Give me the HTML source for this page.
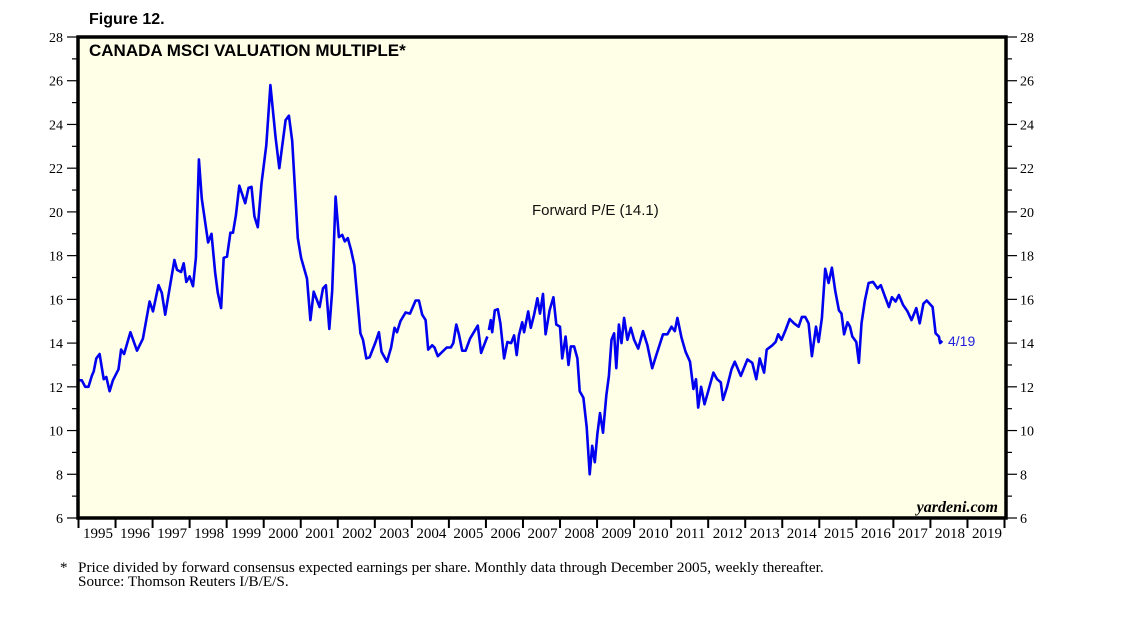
<!DOCTYPE html>
<html><head><meta charset="utf-8"><style>
html,body{margin:0;padding:0;background:#fff;width:1138px;height:621px;overflow:hidden}
svg{display:block}
.ser{font-family:"Liberation Serif",serif}
.san{font-family:"Liberation Sans",sans-serif}
</style></head><body>
<svg id="chart" width="1138" height="621" xmlns="http://www.w3.org/2000/svg">
<text x="89" y="24" class="san" font-size="16" font-weight="bold">Figure 12.</text>
<rect x="78" y="37" width="928" height="481" fill="#FFFEE6"/>
<g id="ticks"></g>
<path id="line" fill="none" stroke="#0000F0" stroke-width="2.6" stroke-linejoin="round"/>
<rect x="78" y="37" width="928" height="481" fill="none" stroke="#000" stroke-width="3.5"/>
<text x="89" y="56" class="san" font-size="17" font-weight="bold">CANADA MSCI VALUATION MULTIPLE*</text>
<text x="532" y="215" class="san" font-size="15" fill="#111">Forward P/E (14.1)</text>
<text x="948" y="346" class="san" font-size="14" fill="#2020E0">4/19</text>
<text x="998" y="512" class="ser" font-size="16" font-style="italic" font-weight="bold" text-anchor="end">yardeni.com</text>
<text x="60" y="572" class="ser" font-size="15">*</text>
<text x="78" y="572" class="ser" font-size="15.2">Price divided by forward consensus expected earnings per share. Monthly data through December 2005, weekly thereafter.</text>
<text x="78" y="586" class="ser" font-size="15.2">Source: Thomson Reuters I/B/E/S.</text>
</svg>
<script>
const years = [1995,1996,1997,1998,1999,2000,2001,2002,2003,2004,2005,2006,2007,2008,2009,2010,2011,2012,2013,2014,2015,2016,2017,2018,2019];
const yTicks = [6,8,10,12,14,16,18,20,22,24,26,28];
const dates = [1995.00,1995.09,1995.18,1995.27,1995.36,1995.41,1995.48,1995.57,1995.68,1995.75,1995.84,1995.93,1996.08,1996.15,1996.23,1996.40,1996.58,1996.74,1996.92,1997.01,1997.16,1997.25,1997.34,1997.46,1997.59,1997.66,1997.77,1997.84,1997.91,1998.00,1998.09,1998.17,1998.25,1998.33,1998.50,1998.59,1998.69,1998.76,1998.85,1998.92,1999.01,1999.10,1999.17,1999.25,1999.34,1999.50,1999.59,1999.67,1999.75,1999.84,1999.94,2000.07,2000.18,2000.32,2000.42,2000.59,2000.68,2000.77,2000.92,2001.01,2001.17,2001.26,2001.35,2001.51,2001.60,2001.68,2001.77,2001.85,2001.94,2002.03,2002.12,2002.19,2002.27,2002.36,2002.45,2002.61,2002.68,2002.77,2002.86,2003.02,2003.11,2003.18,2003.33,2003.44,2003.53,2003.60,2003.69,2003.83,2003.95,2004.10,2004.19,2004.28,2004.37,2004.44,2004.55,2004.61,2004.70,2004.94,2005.05,2005.12,2005.20,2005.27,2005.36,2005.45,2005.57,2005.78,2005.87,2006.04,null,
2006.08,2006.13,2006.17,2006.24,2006.32,2006.39,2006.49,2006.58,2006.68,2006.76,2006.83,2006.89,2006.98,2007.03,2007.14,2007.21,2007.30,2007.39,2007.46,2007.54,2007.61,2007.72,2007.82,2007.90,2008.00,2008.06,2008.15,2008.23,2008.29,2008.38,2008.47,2008.53,2008.63,2008.72,2008.80,2008.87,2008.94,2009.01,2009.08,2009.16,2009.25,2009.32,2009.39,2009.46,2009.52,2009.59,2009.66,2009.73,2009.82,2009.91,2010.00,2010.11,2010.24,2010.36,2010.49,2010.60,2010.78,2010.90,2011.01,2011.10,2011.17,2011.28,2011.39,2011.51,2011.60,2011.67,2011.73,2011.81,2011.90,2012.00,2012.14,2012.24,2012.34,2012.40,2012.51,2012.63,2012.72,2012.88,2013.06,2013.19,2013.30,2013.39,2013.51,2013.58,2013.73,2013.82,2013.89,2013.98,2014.09,2014.20,2014.32,2014.44,2014.53,2014.62,2014.71,2014.80,2014.91,2014.98,2015.07,2015.16,2015.25,2015.34,2015.43,2015.53,2015.60,2015.67,2015.76,2015.83,2015.89,2016.00,2016.07,2016.14,2016.23,2016.33,2016.45,2016.57,2016.66,2016.78,2016.88,2016.96,2017.06,2017.15,2017.26,2017.38,2017.49,2017.62,2017.71,2017.81,2017.90,2018.06,2018.14,2018.23,2018.26,2018.32];
const values = [12.3,12.3,12.0,12.0,12.5,12.7,13.3,13.5,12.35,12.45,11.8,12.3,12.8,13.7,13.5,14.5,13.65,14.2,15.9,15.45,16.65,16.3,15.3,16.5,17.8,17.35,17.25,17.65,16.8,17.05,16.6,17.9,22.4,20.6,18.6,19.0,17.2,16.3,15.6,17.9,17.95,19.05,19.05,19.85,21.2,20.4,21.1,21.15,19.8,19.3,21.3,23.05,25.8,23.4,22.0,24.2,24.4,23.25,18.8,17.9,16.95,15.05,16.35,15.65,16.5,16.65,14.65,16.4,20.7,18.85,18.95,18.65,18.8,18.25,17.55,14.45,14.15,13.3,13.35,14.05,14.5,13.6,13.15,13.8,14.7,14.5,15.0,15.4,15.35,15.95,15.95,15.3,15.05,13.7,13.9,13.8,13.4,13.8,13.8,14.0,14.85,14.4,13.65,13.65,14.2,14.8,13.55,14.3,null,
14.6,15.05,14.5,15.5,15.55,14.9,13.3,14.05,14.0,14.35,13.45,14.35,14.95,14.5,15.45,14.7,15.3,16.05,15.35,16.25,14.4,15.5,16.1,14.85,14.75,13.3,14.3,13.0,13.85,13.85,13.3,11.8,11.5,10.15,8.0,9.3,8.55,9.85,10.8,9.9,11.6,12.5,14.15,14.45,12.85,14.85,14.0,15.15,14.15,14.7,14.15,13.75,14.55,13.9,12.85,13.45,14.4,14.4,14.75,14.55,15.15,14.25,13.6,13.15,11.9,12.35,11.05,12.0,11.2,11.8,12.65,12.35,12.2,11.4,12.0,12.8,13.15,12.5,13.25,13.1,12.35,13.3,12.65,13.7,13.9,14.05,14.4,14.15,14.6,15.1,14.9,14.75,15.2,15.2,14.9,13.4,14.75,14.05,15.15,17.4,16.75,17.45,16.4,15.5,15.35,14.4,14.95,14.75,14.3,14.05,13.1,14.9,15.95,16.75,16.8,16.5,16.65,16.1,15.65,16.1,15.9,16.2,15.75,15.45,15.05,15.6,14.9,15.8,15.95,15.65,14.45,14.3,14.0,14.1];

const X0=78.5, YW=37.04, YTOP=37, YBOT=518;
function xs(t){return X0+(t-1995)*YW;}
function ys(v){return YBOT-(v-6)*(YBOT-YTOP)/22;}
const NS="http://www.w3.org/2000/svg";
const g=document.getElementById('ticks');
function add(tag,attrs,txt){const e=document.createElementNS(NS,tag);for(const k in attrs)e.setAttribute(k,attrs[k]);if(txt!=null)e.textContent=txt;g.appendChild(e);return e;}
for(let v=6;v<=28;v++){
  const y=ys(v), len=(v%2===0)?11:6;
  const l=add('line',{x1:78-len,x2:78,y1:y,y2:y,stroke:'#000','stroke-width':1.2});
  
  
  const r=add('line',{x1:1006,x2:1006+len,y1:y,y2:y,stroke:'#000','stroke-width':1.2});
  
  
}
yTicks.forEach(v=>{
  const y=ys(v)+5;
  const a=add('text',{x:63,y:y,'text-anchor':'end','font-size':14,class:'ser'},String(v));
  
  
  const b=add('text',{x:1020,y:y,'font-size':14,class:'ser'},String(v));
  
  
});
years.forEach(yr=>{
  const x=xs(yr);
  const t=add('line',{x1:x,x2:x,y1:518,y2:528,stroke:'#000','stroke-width':2});
  
  
  const lb=add('text',{x:x+YW/2+1,y:538,'text-anchor':'middle','font-size':15,class:'ser'},String(yr));
  
  
});
const et=add('line',{x1:xs(2020),x2:xs(2020),y1:518,y2:528,stroke:'#000','stroke-width':2});


let d='',pen=false;
for(let i=0;i<dates.length;i++){
  if(dates[i]==null||values[i]==null){pen=false;continue;}
  d+=(pen?'L':'M')+xs(dates[i]).toFixed(1)+' '+ys(values[i]).toFixed(1);
  pen=true;
}
document.getElementById('line').setAttribute('d',d);
</script>
</body></html>
